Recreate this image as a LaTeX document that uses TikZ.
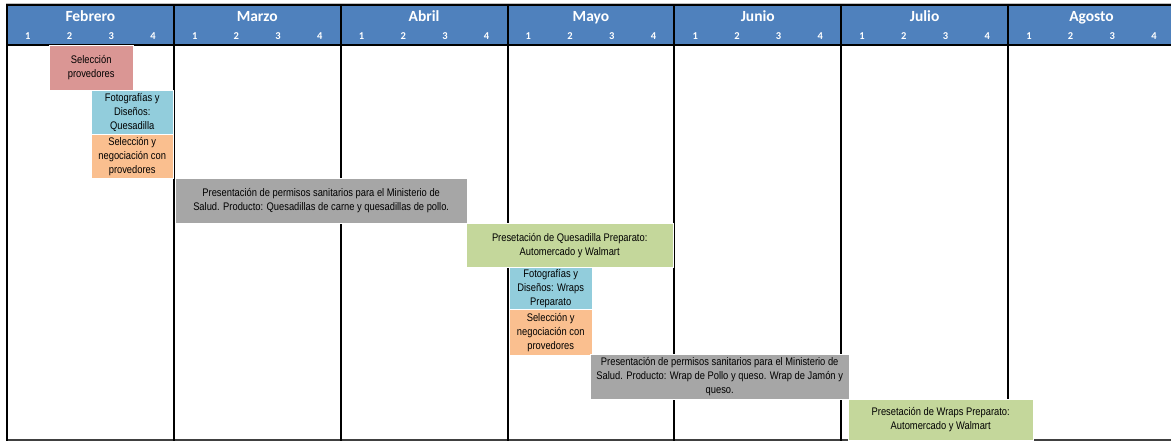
\documentclass[tikz,border=0pt]{standalone}
\usepackage{fontspec}
\setmainfont{Liberation Sans}[FakeStretch=0.85]
\newfontfamily\cabfont{Carlito}
\usetikzlibrary{positioning}

\definecolor{azulcab}{HTML}{4F81BD}
\definecolor{rosa}{HTML}{DA9694}
\definecolor{celeste}{HTML}{92CDDC}
\definecolor{naranja}{HTML}{FABF8F}
\definecolor{gris}{HTML}{A6A6A6}
\definecolor{verde}{HTML}{C4D79B}

\tikzset{
	tarea/.style={draw=white, line width=0.4pt, anchor=north west, align=center, inner sep=0pt, font=\fontsize{11}{14}\selectfont},
	mes/.style={text=white, anchor=base, inner sep=0pt, font=\cabfont\bfseries\fontsize{15.5}{15.5}\selectfont},
	semana/.style={text=white, anchor=base, inner sep=0pt, font=\cabfont\bfseries\fontsize{10.5}{10.5}\selectfont}
}

\begin{document}
\begin{tikzpicture}[x=1pt, y=-1pt]
		\useasboundingbox (0,0) rectangle (1171,442);
		\fill[white] (0,0) rectangle (1171,442);
		\fill[azulcab]	(7,5) rectangle (1171,44);

		\draw[gray!50, line width=1pt]	(6,3) to (1171,3);
		\draw[black, line width=1.5pt]	(6,5) to (1171,5);
		\draw[black, line width=2pt]	(6,44.5) to (1171,44.5);
		\draw[black!75, line width=1.2pt]	(6,440) to (1171,440);

		\foreach \m [count=\i from 0] in {Febrero,Marzo,Abril,Mayo,Junio,Julio,Agosto} {
			\node[mes] (mes\i) at (7+166.85*\i+83.4, 21) {\m};
			\foreach \s in {1,...,4}
				\node[semana] (sem\i\s) at (7+166.85*\i+41.7*\s-20.85, 39.5) {\s};
			\draw[black, line width=2pt]	(7+166.85*\i,4.5) to (7+166.85*\i,440.5);
		}

		\node[tarea, fill=rosa, minimum width=84, minimum height=45]	(selprov) at (49,45) {Selección\\provedores};
		\node[tarea, fill=celeste, minimum width=82, minimum height=44]	(fotoques) at (91,90) {Fotografías y\\Diseños:\\Quesadilla};
		\node[tarea, fill=naranja, minimum width=82, minimum height=44]	(negques) at (91,134) {Selección y\\negociación con\\provedores};
		\node[tarea, fill=gris, minimum width=292, minimum height=45]	(permques) at (175,178) {Presentación de permisos sanitarios para el Ministerio de\\Salud. Producto: Quesadillas de carne y quesadillas de pollo.};
		\node[tarea, fill=verde, minimum width=207, minimum height=44]	(presques) at (466,223) {Presetación de Quesadilla Preparato:\\Automercado y Walmart};
		\node[tarea, fill=celeste, minimum width=83, minimum height=42]	(fotowrap) at (509,267) {Fotografías y\\Diseños: Wraps\\Preparato};
		\node[tarea, fill=naranja, minimum width=83, minimum height=46]	(negwrap) at (509,309) {Selección y\\negociación con\\provedores};
		\node[tarea, fill=gris, minimum width=259, minimum height=45]	(permwrap) at (590,354) {Presentación de permisos sanitarios para el Ministerio de\\Salud. Producto: Wrap de Pollo y queso. Wrap de Jamón y\\queso.};
		\node[tarea, fill=verde, minimum width=185, minimum height=41]	(preswrap) at (848,399) {Presetación de Wraps Preparato:\\Automercado y Walmart};
\end{tikzpicture}
\end{document}
